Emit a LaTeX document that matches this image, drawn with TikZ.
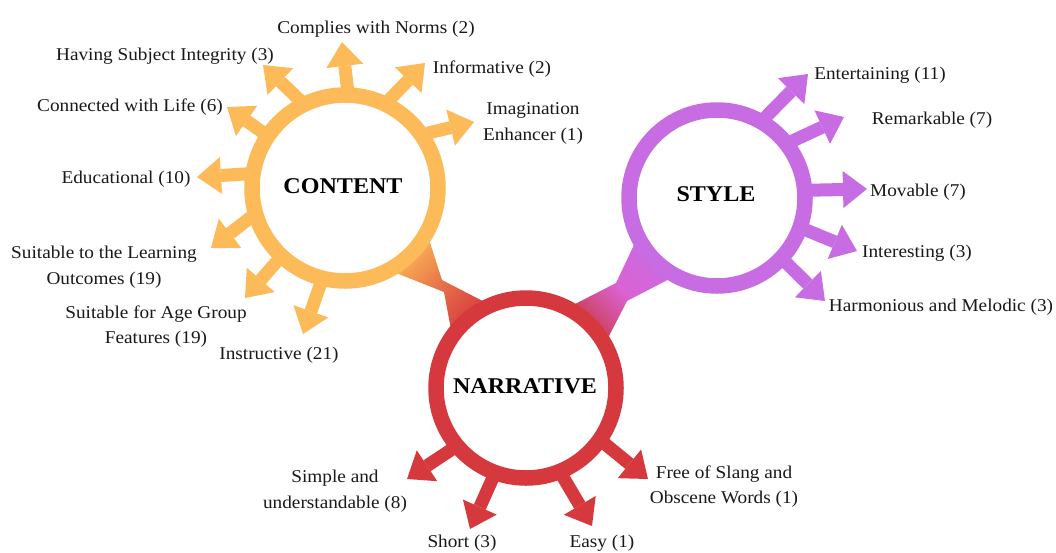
\documentclass[tikz,border=0pt]{standalone}
\usepackage{fontspec}
\setmainfont{Liberation Serif}[FakeStretch=1.07]
\usetikzlibrary{arrows.meta,calc}
\definecolor{corange}{HTML}{FDBA58}
\definecolor{cred}{HTML}{D6393D}
\definecolor{cpurple}{HTML}{C86CE3}
\definecolor{cpink}{HTML}{DB62D2}
\definecolor{cdred}{HTML}{C93C48}
\tikzset{
  lbl/.style={font=\fontsize{18}{25.5}\selectfont, align=center, inner sep=0pt, text=black!90, yshift=-2pt},
  ttl/.style={font=\fontsize{22.5}{27}\selectfont\bfseries, inner sep=0pt, text=black},
  ringline/.style={line width=15.5pt, draw=#1},
  spike/.style={draw=#1, line width=13pt, -{Triangle[width=37pt,length=24pt,line width=0pt]}},
}
\begin{document}
\begin{tikzpicture}[x=1pt,y=1pt]
\fill[white] (0,0) rectangle (1056,-552);
\useasboundingbox (0,0) rectangle (1056,-552);

\coordinate (cC) at (345,-188);
\coordinate (cS) at (717,-198);
\coordinate (cN) at (526,-388);

% bridges
\shade[top color=corange, bottom color=cred, middle color=cred!55!corange, shading angle=45]
  (388.6,-270) -- (444,-292) -- (452.3,-336.4) -- (490.8,-305.2) -- (442,-280) -- (426.7,-232.4) -- cycle;
\shade[top color=cpurple, bottom color=cdred, middle color=cpink, shading angle=-45]
  (637.9,-236.6) -- (616,-283) -- (567.3,-308) -- (604.7,-344.4) -- (627,-301) -- (675.7,-275.7) -- cycle;

% content tips
\coordinate (tc1) at (342,-42);
\coordinate (tc2) at (425,-63);
\coordinate (tc3) at (474,-122);
\coordinate (tc4) at (263,-65);
\coordinate (tc5) at (227,-107);
\coordinate (tc6) at (197,-177);
\coordinate (tc7) at (211,-248);
\coordinate (tc8) at (245,-298);
\coordinate (tc9) at (303,-334);
\draw[spike=corange] ($(cC)+(88:93)$) -- (tc1);
\draw[spike=corange] ($(cC)+(64.5:93)$) -- (tc2);
\draw[spike=corange] ($(cC)+(35:93)$) -- (tc3);
\draw[spike=corange] ($(cC)+(116:93)$) -- (tc4);
\draw[spike=corange] ($(cC)+(146:93)$) -- (tc5);
\draw[spike=corange] ($(cC)+(171:93)$) -- (tc6);
\draw[spike=corange] ($(cC)+(196:93)$) -- (tc7);
\draw[spike=corange] ($(cC)+(227:93)$) -- (tc8);
\draw[spike=corange] ($(cC)+(256:93)$) -- (tc9);

% style tips
\coordinate (ts1) at (808,-74);
\coordinate (ts2) at (844,-117);
\coordinate (ts3) at (867,-189);
\coordinate (ts4) at (857,-251);
\coordinate (ts5) at (825,-301);
\draw[spike=cpurple] ($(cS)+(60:88)$) -- (ts1);
\draw[spike=cpurple] ($(cS)+(38:88)$) -- (ts2);
\draw[spike=cpurple] ($(cS)+(5:88)$) -- (ts3);
\draw[spike=cpurple] ($(cS)+(-19.6:88)$) -- (ts4);
\draw[spike=cpurple] ($(cS)+(-43:88)$) -- (ts5);

% narrative tips
\coordinate (tn1) at (407,-479);
\coordinate (tn2) at (470,-529);
\coordinate (tn3) at (592,-526);
\coordinate (tn4) at (648,-479);
\draw[spike=cred] ($(cN)+(220:90)$) -- (tn1);
\draw[spike=cred] ($(cN)+(250:90)$) -- (tn2);
\draw[spike=cred] ($(cN)+(292:90)$) -- (tn3);
\draw[spike=cred] ($(cN)+(325:90)$) -- (tn4);

% rings
\draw[ringline=corange] (cC) circle[radius=93];
\draw[ringline=cpurple] (cS) circle[radius=88];
\draw[ringline=cred] (cN) circle[radius=90];

% titles
\node[ttl] (content) at (343,-186) {CONTENT};
\node[ttl] (style) at (716,-194) {STYLE};
\node[ttl] (narrative) at (525,-386) {NARRATIVE};

% labels
\node[lbl] (l1) at (376,-27) {Complies with Norms (2)};
\node[lbl] (l2) at (492,-67) {Informative (2)};
\node[lbl] (l3) at (533,-121.5) {Imagination\\Enhancer (1)};
\node[lbl] (l4) at (165,-54) {Having Subject Integrity (3)};
\node[lbl] (l5) at (130,-105) {Connected with Life (6)};
\node[lbl] (l6) at (126,-177) {Educational (10)};
\node[lbl] (l7) at (104,-265) {Suitable to the Learning\\Outcomes (19)};
\node[lbl] (l8) at (156,-324.5) {Suitable for Age Group\\Features (19)};
\node[lbl] (l9) at (279,-353) {Instructive (21)};
\node[lbl] (s1) at (880,-73) {Entertaining (11)};
\node[lbl] (s2) at (932,-118) {Remarkable (7)};
\node[lbl] (s3) at (918,-190) {Movable (7)};
\node[lbl] (s4) at (917,-251) {Interesting (3)};
\node[lbl] (s5) at (941,-305) {Harmonious and Melodic (3)};
\node[lbl] (n1) at (335,-489) {Simple and\\understandable (8)};
\node[lbl] (n2) at (462,-541) {Short (3)};
\node[lbl] (n3) at (602,-541) {Easy (1)};
\node[lbl] (n4) at (724,-484.5) {Free of Slang and\\Obscene Words (1)};
\end{tikzpicture}
\end{document}
